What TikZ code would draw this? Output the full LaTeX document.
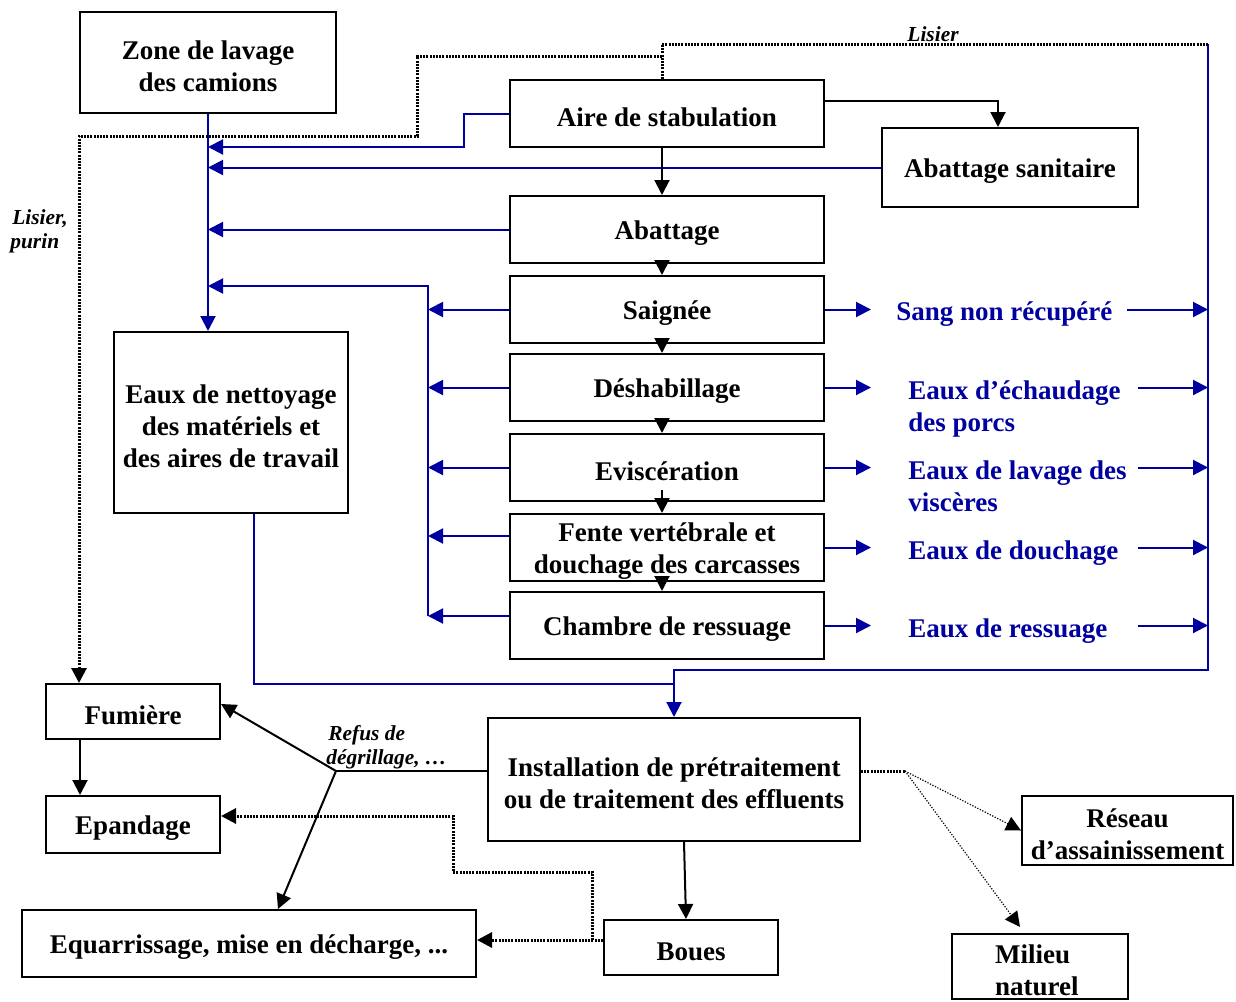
\documentclass[tikz,border=0pt]{standalone}
\usepackage{fontspec}
\setmainfont{Liberation Serif}
\usetikzlibrary{arrows.meta}
\definecolor{navy}{RGB}{0,0,160}
\newcommand{\lowstrut}{\rule{0pt}{13.2pt}}
\begin{document}
\begin{tikzpicture}[x=0.5pt,y=-0.5pt,
  box/.style={draw,line width=1pt,inner sep=0pt,align=center,font=\fontsize{13.5}{16}\selectfont\bfseries,execute at begin node={\lowstrut}},
  stepbox/.style={box,minimum width=157pt,minimum height=33.5pt},
  lab/.style={anchor=west,inner sep=0pt,text height=9.5pt,text depth=3pt,text=navy,font=\fontsize{13.5}{16}\selectfont\bfseries},
  ital/.style={inner sep=0pt,text height=8pt,text depth=2.5pt,font=\fontsize{10.7}{13}\selectfont\bfseries\itshape},
  bl/.style={draw=navy,line width=1pt},
  blk/.style={draw=black,line width=1pt},
  tip/.style={-{Triangle[length=7.5pt,width=7.5pt]}},
  dots/.style={draw=black,line width=1.5pt,dash pattern=on 1pt off 0.6pt},
  thindots/.style={draw=black,line width=0.6pt,dash pattern=on 0.6pt off 0.8pt}]
\useasboundingbox (0,0) rectangle (1236,1001);

% nodes
\node[box,minimum width=128pt,minimum height=50.5pt] (zone) at (208,62.5) {\lowstrut Zone de lavage\\des camions};
\node[stepbox] (aire) at (667,113.5) {Aire de stabulation};
\node[box,minimum width=128pt,minimum height=39.5pt] (sanit) at (1010,167.5) {Abattage sanitaire};
\node[stepbox] (abat) at (667,229.5) {Abattage};
\node[stepbox] (saign) at (667,309.5) {Saignée};
\node[stepbox] (desh) at (667,387.5) {Déshabillage};
\node[stepbox] (evis) at (667,467.5) {Eviscération};
\node[stepbox] (fente) at (667,547.5) {\lowstrut Fente vertébrale et\\douchage des carcasses};
\node[stepbox] (chamb) at (667,625.5) {Chambre de ressuage};
\node[box,minimum width=117pt,minimum height=90.5pt] (nett) at (231,422.5) {\lowstrut Eaux de nettoyage\\des matériels et\\des aires de travail};
\node[box,minimum width=87pt,minimum height=27.5pt] (fum) at (133,711.5) {Fumière};
\node[box,minimum width=87pt,minimum height=28.5pt] (epan) at (133,824.5) {Epandage};
\node[box,minimum width=227pt,minimum height=33.5pt] (equ) at (249,943.5) {Equarrissage, mise en décharge, ...};
\node[box,minimum width=186pt,minimum height=61.5pt] (inst) at (674,779.5) {\lowstrut Installation de prétraitement\\ou de traitement des effluents};
\node[box,minimum width=87pt,minimum height=27.5pt] (boues) at (691,947.5) {Boues};
\node[box,minimum width=105.5pt,minimum height=34.5pt] (res) at (1127.5,830.5) {\lowstrut Réseau\\d’assainissement};
\node[box,minimum width=88pt,minimum height=32.5pt,align=left,text width=45pt,inner xsep=21.5pt] (mil) at (1040,966.5) {Milieu\\naturel};

% blue labels
\node[lab] (l1) at (896,314) {Sang non récupéré};
\node[lab] (l2a) at (908,393) {Eaux d’échaudage};
\node[lab] (l2b) at (908,425) {des porcs};
\node[lab] (l3a) at (908,473) {Eaux de lavage des};
\node[lab] (l3b) at (908,505) {viscères};
\node[lab] (l4) at (908,553) {Eaux de douchage};
\node[lab] (l5) at (908,631) {Eaux de ressuage};

% italic labels
\node[ital] (lis) at (933,36) {Lisier};
\node[ital,anchor=west] (lp1) at (12,219) {Lisier,};
\node[ital,anchor=west] (lp2) at (10,243) {purin};
\node[ital,anchor=west] (rf1) at (328,735) {Refus de};
\node[ital,anchor=west] (rf2) at (326,759) {dégrillage, …};

% coordinates
\coordinate (T) at (208,0);
\coordinate (C) at (428,286);
\coordinate (Cb) at (428,616);
\coordinate (R) at (1208,0);
\coordinate (Rt) at (1208,44);
\coordinate (Rb) at (1208,670);
\coordinate (S1) at (1127,0);
\coordinate (S2) at (1138,0);
\coordinate (jn) at (674,684);
\coordinate (J) at (336,771);
\coordinate (K) at (905,771);
\coordinate (L1) at (662,44);
\coordinate (L2) at (662,56);

% blue collectors (left)
\draw[bl,tip] (zone.south) -- (nett.north -| zone.south);
\draw[bl,tip] (aire.west) -- (464,113.5) -- (464,147) -- (208,147);
\draw[bl,tip] (sanit.west) -- (sanit.west -| T);
\draw[bl,tip] (abat.west) -- (abat.west -| T);
\draw[bl,tip] (Cb) -- (C) -- (C -| T);
\draw[bl,tip] (saign.west) -- (saign.west -| C);
\draw[bl,tip] (desh.west) -- (desh.west -| C);
\draw[bl,tip] (evis.west) -- (evis.west -| C);
\draw[bl,tip] ([yshift=5.75pt]fente.west) -- ([yshift=5.75pt]fente.west -| C);
\draw[bl,tip] ([yshift=4.75pt]chamb.west) -- ([yshift=4.75pt]chamb.west -| C);

% blue right side
\foreach \n in {saign,desh,evis,fente,chamb}{
  \draw[bl,tip] (\n.east) -- ++(46,0);
}
\draw[bl,tip] (saign.east -| S1) -- (saign.east -| R);
\foreach \n in {desh,evis,fente,chamb}{
  \draw[bl,tip] (\n.east -| S2) -- (\n.east -| R);
}
\draw[bl,tip] (Rt) -- (Rb) -- (Rb -| inst.north) -- (inst.north);
\draw[bl] ([xshift=11.5pt]nett.south) |- (jn);

% black solid
\draw[blk,tip] ([xshift=-2.5pt]aire.south) -- ([xshift=-2.5pt]abat.north);
\draw[blk,tip] ([yshift=6.25pt]aire.east) -| ([xshift=-6pt]sanit.north);
\draw[blk,tip] ([xshift=-2.5pt]abat.south) -- ([xshift=-2.5pt]saign.north);
\draw[blk,tip] ([xshift=-2.5pt]saign.south) -- ([xshift=-2.5pt]desh.north);
\draw[blk,tip] ([xshift=-2.5pt]desh.south) -- ([xshift=-2.5pt]evis.north);
\draw[blk,tip] ([xshift=-2.5pt,yshift=6pt]evis.south) -- ([xshift=-2.5pt]fente.north);
\draw[blk,tip] ([xshift=-2.5pt]fente.south) -- ([xshift=-2.5pt]chamb.north);
\draw[blk,tip] ([xshift=-26.5pt]fum.south) -- ([xshift=-26.5pt]epan.north);
\draw[blk,tip] ([xshift=5pt]inst.south) -- ([xshift=-2.5pt]boues.north);
\draw[blk] ([yshift=4.25pt]inst.west) -- (J);
\draw[blk,tip] (J) -- ([yshift=3.75pt]fum.east);
\draw[blk,tip] (J) -- ([xshift=14.5pt]equ.north);

% dotted
\draw[dots] ([xshift=-2.5pt]aire.north) -- (L1) -- (Rt);
\draw[dots,tip] (L2) -- (417,56) -- (417,136) -- (79,136) -- ([xshift=-27pt]fum.north);
\draw[dots,tip] ([yshift=3.75pt]boues.west) coordinate (bw) -- (bw -| equ.east);
\draw[dots,tip] (592,940) |- (453,872) |- ([yshift=4.25pt]epan.east);
\draw[dots] ([yshift=4.25pt]inst.east) -- (K);
\draw[thindots,tip] (K) -- (res.west);
\draw[thindots,tip] (K) -- ([xshift=-10pt,yshift=3pt]mil.north);
\end{tikzpicture}
\end{document}
